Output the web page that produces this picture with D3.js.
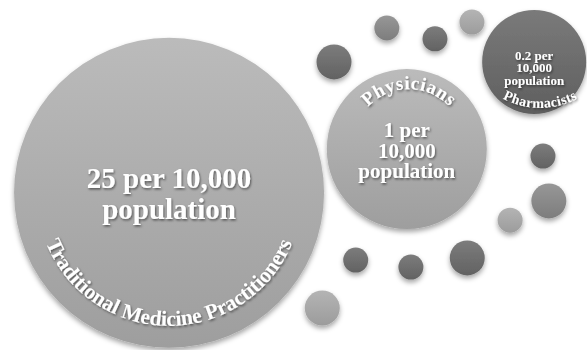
<!DOCTYPE html>
<html>
<head>
<meta charset="utf-8">
<script src="https://cdn.jsdelivr.net/npm/d3@7"></script>
<style>
  html, body { margin: 0; padding: 0; background: #ffffff; }
  svg { display: block; }
</style>
</head>
<body>
<div id="chart"></div>
<script>
// ---- data ----
const categories = ["Traditional Medicine Practitioners", "Physicians", "Pharmacists"];
const rates = [25, 1, 0.2];
const rateLabels = [
  ["25 per 10,000", "population"],
  ["1 per", "10,000", "population"],
  ["0.2 per", "10,000", "population"]
];

// ---- layout (percent of canvas) ----
const mainPos = [[28.8, 55.1], [69.3, 42.6], [91.0, 17.7]];
const dotPos = [
  [56.9, 17.7], [65.9, 8.0], [74.1, 11.1], [80.4, 6.3],
  [92.5, 44.6], [93.5, 57.4], [86.9, 62.9], [79.6, 73.7],
  [70.0, 76.3], [60.6, 74.3], [54.9, 88.0]
];
const dotSize = ["l", "s", "s", "s", "s", "l", "s", "l", "s", "s", "l"];
const dotShade = ["dark", "mid", "dark", "light", "dark", "mid", "light", "dark", "dark", "dark", "light"];

const W = 587, H = 350;
const x = d3.scaleLinear().domain([0, 100]).range([0, W]);
const y = d3.scaleLinear().domain([0, 100]).range([0, H]);
const rScale = d3.scaleLog().domain([0.2, 1, 25]).range([52, 80, 155]);
const dotR = d3.scaleOrdinal().domain(["s", "l"]).range([12.5, 17.5]);
const shadeTop = d3.scaleOrdinal().domain(["dark", "mid", "light", "main", "pharm"])
  .range(["#7c7c7c", "#979797", "#b4b4b4", "#bbbbbb", "#7a7a7a"]);
const shadeBot = d3.scaleOrdinal().domain(["dark", "mid", "light", "main", "pharm"])
  .range(["#626262", "#7d7d7d", "#9c9c9c", "#9e9e9e", "#5f5f5f"]);

const svg = d3.select("#chart").append("svg").attr("width", W).attr("height", H);
const defs = svg.append("defs");

["dark", "mid", "light", "main", "pharm"].forEach(k => {
  const g = defs.append("linearGradient").attr("id", "g-" + k)
    .attr("x1", 0).attr("y1", 0).attr("x2", 0).attr("y2", 1);
  g.append("stop").attr("offset", "0%").attr("stop-color", shadeTop(k));
  g.append("stop").attr("offset", "100%").attr("stop-color", shadeBot(k));
});

const sh = defs.append("filter").attr("id", "shadow")
  .attr("x", "-20%").attr("y", "-20%").attr("width", "140%").attr("height", "150%");
sh.append("feDropShadow").attr("dx", 0).attr("dy", 3).attr("stdDeviation", 2.5)
  .attr("flood-color", "#000").attr("flood-opacity", 0.35);

const ts = defs.append("filter").attr("id", "tshadow")
  .attr("x", "-20%").attr("y", "-40%").attr("width", "140%").attr("height", "180%");
ts.append("feDropShadow").attr("dx", 1).attr("dy", 1.5).attr("stdDeviation", 1)
  .attr("flood-color", "#000").attr("flood-opacity", 0.5);

// decorative dots
svg.append("g").selectAll("circle").data(dotPos).join("circle")
  .attr("cx", d => x(d[0])).attr("cy", d => y(d[1]))
  .attr("r", (d, i) => dotR(dotSize[i]))
  .attr("fill", (d, i) => `url(#g-${dotShade[i]})`)
  .attr("filter", "url(#shadow)");

// main bubbles
const mains = categories.map((c, i) => ({
  name: c, rate: rates[i], lines: rateLabels[i],
  cx: x(mainPos[i][0]), cy: y(mainPos[i][1]), r: rScale(rates[i]), i
}));

const styles = [
  { fill: "main", fs: 29, lh: 31, first: -5, arcFs: 21.5, arcR: 133, adx: 0, ady: 0, arc: "bottom", ls: -0.1 },
  { fill: "main", fs: 21, lh: 20.5, first: -12, arcFs: 19, arcR: 56, adx: 2, ady: -4, arc: "top", ls: 0.6 },
  { fill: "pharm", fs: 13, lh: 12.5, first: -2, arcFs: 14, arcR: 80, adx: 6, ady: -34, arc: "bottom", ls: 0.4 }
];

const g = svg.append("g");
g.selectAll("circle").data(mains).join("circle")
  .attr("cx", d => d.cx).attr("cy", d => d.cy).attr("r", d => d.r)
  .attr("fill", d => `url(#g-${styles[d.i].fill})`)
  .attr("filter", "url(#shadow)");

mains.forEach(d => {
  const s = styles[d.i];
  const t = svg.append("text")
    .attr("text-anchor", "middle")
    .attr("font-family", "'Liberation Serif', 'Times New Roman', serif")
    .attr("font-weight", "bold")
    .attr("font-size", s.fs)
    .attr("fill", "#ffffff")
    .attr("filter", "url(#tshadow)");
  d.lines.forEach((ln, k) => {
    t.append("tspan").attr("x", d.cx).attr("y", d.cy + s.first + k * s.lh).text(ln);
  });

  const R = s.arcR;
  const ax = d.cx + s.adx, ay = d.cy + s.ady;
  const sweep = s.arc === "top" ? 1 : 0;
  const pathD = `M ${ax - R} ${ay} A ${R} ${R} 0 0 ${sweep} ${ax + R} ${ay}`;
  defs.append("path").attr("id", "arc" + d.i).attr("d", pathD);
  svg.append("text")
    .attr("font-family", "'Liberation Serif', 'Times New Roman', serif")
    .attr("font-weight", "bold")
    .attr("font-size", s.arcFs)
    .attr("letter-spacing", s.ls)
    .attr("fill", "#ffffff")
    .attr("filter", "url(#tshadow)")
    .append("textPath")
    .attr("href", "#arc" + d.i)
    .attr("startOffset", "50%")
    .attr("text-anchor", "middle")
    .text(d.name);
});
</script>
</body>
</html>
